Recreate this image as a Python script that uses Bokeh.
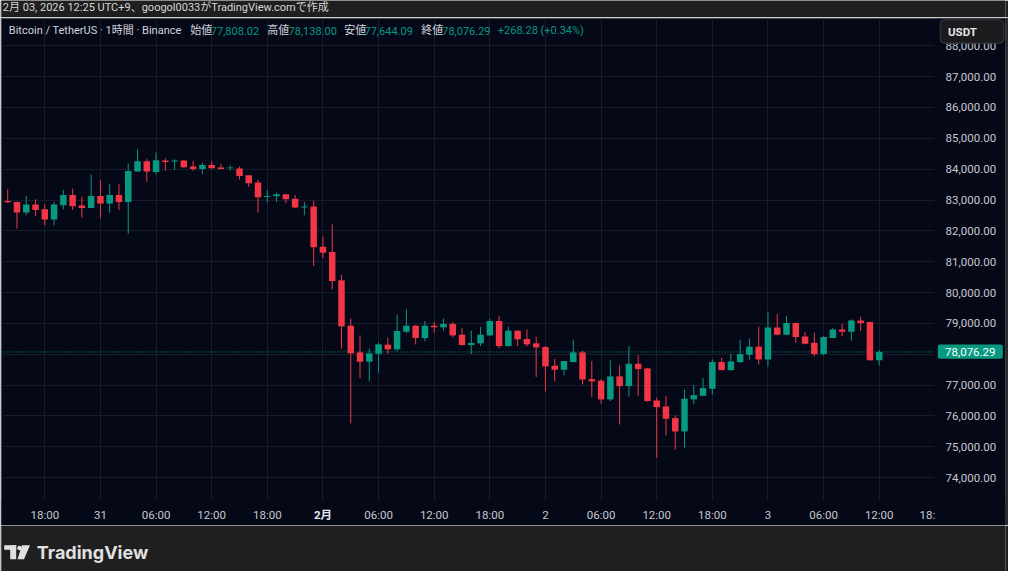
from bokeh.plotting import figure
from bokeh.layouts import column
from bokeh.models import (ColumnDataSource, FixedTicker, Span, Label,
                          BoxAnnotation, PolyAnnotation, NumeralTickFormatter)
from bokeh.core.properties import value
from bokeh.embed import file_html
from bokeh.resources import INLINE

# hour index: hours after 2026-01-30 18:00 (UTC+9), 1h candles BTC/USDT
hours = list(range(-4, 91))
opens = [82970, 82938, 82592, 82851, 82700, 82365, 82830, 83165, 82819, 82743,
         83132, 82884, 83165, 82938, 83922, 84257, 83911, 84278, 84246, 84278,
         84084, 84008, 84138, 84051, 84030, 84019, 83803, 83565, 83100, 83122,
         83186, 83045, 82754, 82786, 81489, 81316, 80397, 78927, 78062, 77759,
         78019, 78311, 78159, 78732, 78927, 78527, 78927, 78873, 78981, 78635,
         78300, 78354, 78613, 79078, 78267, 78765, 78494, 78354, 78235, 77629,
         77499, 77748, 78061, 77196, 77142, 76537, 77283, 76969, 77693, 77542,
         76504, 76310, 75931, 75499, 76537, 76656, 76883, 77748, 77488, 77748,
         77985, 78245, 77834, 78872, 78634, 79012, 78580, 78374, 78007, 78526,
         78807, 78731, 79099, 79045, 77808.02]
highs = [83349, 82948, 83132, 83024, 82851, 82938, 83327, 83370, 83111, 83824,
         83651, 83511, 83511, 84181, 84646, 84321, 84538, 84354, 84321, 84288,
         84267, 84213, 84246, 84170, 84127, 84084, 83808, 83651, 83327, 83240,
         83198, 83158, 82937, 82970, 81813, 82213, 80570, 79154, 78613, 78181,
         78375, 78538, 79284, 79456, 78948, 79078, 79046, 79154, 79046, 78851,
         78765, 78894, 79154, 79251, 78894, 78773, 78797, 78570, 78267, 77856,
         77788, 78472, 78115, 77780, 77196, 77802, 77639, 78266, 77975, 77558,
         76591, 76656, 76018, 76850, 77002, 77229, 77834, 77888, 78018, 78472,
         78504, 78893, 79380, 79304, 79250, 79023, 78720, 78699, 78591, 78850,
         78980, 79131, 79218, 79058, 78138.00]
lows = [82905, 82073, 82505, 82484, 82181, 82181, 82700, 82678, 82430, 82728,
        82408, 82592, 82678, 81911, 83918, 83586, 83835, 83943, 83976, 84040,
        83943, 83835, 84018, 83997, 83954, 83662, 83424, 82592, 82916, 82938,
        82895, 82738, 82505, 80862, 81121, 80105, 78181, 75759, 77230, 77122,
        77403, 78019, 78094, 78678, 78321, 78419, 78700, 78765, 78548, 78278,
        78008, 78267, 78592, 78192, 78246, 78267, 78246, 77262, 76797, 77121,
        77315, 77738, 77023, 76623, 76396, 76483, 75726, 76623, 76645, 76468,
        74645, 75369, 74915, 74969, 76375, 76648, 76699, 77478, 77478, 77726,
        77823, 77661, 77596, 78612, 78618, 78374, 78320, 77931, 77964, 78518,
        78580, 78439, 78753, 77790, 77644.09]
closes = [82927, 82592, 82851, 82678, 82365, 82851, 83165, 82797, 82743, 83132,
          82884, 83165, 82938, 83943, 84257, 83922, 84289, 84235, 84278, 84062,
          84008, 84138, 84030, 84008, 84051, 83781, 83543, 83089, 83132, 83186,
          83024, 82754, 82786, 81467, 81294, 80375, 78905, 78030, 77759, 78030,
          78321, 78159, 78754, 78927, 78527, 78927, 78873, 78981, 78613, 78300,
          78365, 78635, 79078, 78267, 78765, 78484, 78321, 78224, 77608, 77499,
          77780, 78061, 77185, 77121, 76537, 77283, 76969, 77693, 77521, 76483,
          76288, 75910, 75499, 76558, 76677, 76904, 77748, 77488, 77769, 78007,
          78245, 77834, 78872, 78634, 79012, 78558, 78342, 78007, 78558, 78807,
          78731, 79099, 79012, 77808.02, 78076.29]

x_ticks = [0, 6, 12, 18, 24, 30, 36, 42, 48, 54, 60, 66, 72, 78, 84, 90]
x_tick_labels = ["18:00", "31", "06:00", "12:00", "18:00", "2月", "06:00",
                 "12:00", "18:00", "2", "06:00", "12:00", "18:00", "3",
                 "06:00", "12:00"]
y_ticks = [74000, 75000, 76000, 77000, 78000, 79000, 80000, 81000,
           82000, 83000, 84000, 85000, 86000, 87000, 88000]

header_text = "2月 03, 2026 12:25 UTC+9、googol0033がTradingView.comで作成"
symbol_text = "Bitcoin / TetherUS · 1時間 · Binance"
change_text = "+268.28 (+0.34%)"

UP = "#089981"
DOWN = "#f23645"
PANEL = "#050817"
PAGE = "#1f1f1f"
GRID = "#181c2b"
AXIS_TEXT = "#c5c8cf"
FONT = "Roboto, 'Noto Sans CJK JP'"

# layout constants (pixels)
X_PRICE_EDGE = 95.97      # data x where the price scale column begins
Y_TIME_EDGE = 73261       # data y where the time scale row begins


def add_label(fig, text, sx, sy, color, size, bold=False, align="left",
              y_data=None, x_data=None):
    kw = dict(text=text, text_color=color, text_font=FONT,
              text_font_size=f"{size}px",
              text_font_style="bold" if bold else "normal",
              text_align=align, text_baseline="middle")
    if x_data is None:
        kw.update(x=sx, x_units="screen")
    else:
        kw.update(x=x_data, x_units="data")
    if y_data is None:
        kw.update(y=sy, y_units="screen")
    else:
        kw.update(y=y_data, y_units="data")
    fig.add_layout(Label(**kw))


def add_box(fig, l, r, t, b, fill, line=None, radius=0, level="annotation"):
    fig.add_layout(BoxAnnotation(
        left=l, right=r, top=t, bottom=b,
        left_units="screen", right_units="screen",
        top_units="screen", bottom_units="screen",
        fill_color=fill, fill_alpha=1 if fill else 0,
        line_color=line, line_alpha=1 if line else 0, line_width=1,
        border_radius=radius, level=level))


def strip(height):
    f = figure(width=1008, height=height, x_range=(0, 1008),
               y_range=(0, height), output_backend="svg",
               toolbar_location=None, min_border=0,
               x_axis_type=None, y_axis_type=None)
    f.background_fill_color = PAGE
    f.border_fill_color = PAGE
    f.outline_line_color = None
    f.grid.visible = False
    return f


# ---------------- header strip ----------------
head = strip(17)
add_label(head, header_text, 1.3, 10.5, "#d6d6d6", 11)

# ---------------- main chart panel ----------------
p = figure(width=1008, height=508, x_range=(-4.67, 103.62),
           y_range=(72451, 88883), y_axis_location="right",
           output_backend="svg", toolbar_location=None,
           min_border_left=1, min_border_right=3,
           min_border_top=1, min_border_bottom=0)
p.background_fill_color = PANEL
p.border_fill_color = "#2a2a2f"
p.outline_line_color = None

for ax in (p.xaxis[0], p.yaxis[0]):
    ax.axis_line_color = None
    ax.major_tick_line_color = None
    ax.minor_tick_line_color = None
    ax.major_tick_out = 0
    ax.major_tick_in = 0
    ax.major_label_text_color = AXIS_TEXT
    ax.major_label_text_font = FONT
    ax.major_label_text_font_size = "11.5px"

p.xaxis.ticker = FixedTicker(ticks=x_ticks)
overrides = {t: lab for t, lab in zip(x_ticks, x_tick_labels)}
overrides[30] = ""
p.xaxis.major_label_overrides = overrides
p.xaxis.major_label_standoff = 7
p.xaxis.fixed_location = Y_TIME_EDGE

p.yaxis.ticker = FixedTicker(ticks=y_ticks)
p.yaxis.formatter = NumeralTickFormatter(format="0,0.00")
p.yaxis.major_label_overrides = {78000: ""}
p.yaxis.major_label_standoff = 11
p.yaxis.fixed_location = X_PRICE_EDGE

p.xgrid.grid_line_color = GRID
p.ygrid.grid_line_color = GRID

tops = [max(o, c) for o, c in zip(opens, closes)]
bottoms = [min(o, c) for o, c in zip(opens, closes)]
colors = [UP if c >= o else DOWN for o, c in zip(opens, closes)]
src = ColumnDataSource(dict(t=hours, o=opens, h=highs, l=lows, c=closes,
                            top=tops, bottom=bottoms, color=colors))

p.add_layout(Span(location=closes[-1], dimension="width", line_color=UP,
                  line_dash="1 2", line_width=1, level="underlay"))
# plain panel behind the price scale and the time scale
p.add_layout(BoxAnnotation(left=X_PRICE_EDGE, fill_color=PANEL, fill_alpha=1,
                           line_color=None, level="underlay"))
p.add_layout(BoxAnnotation(top=Y_TIME_EDGE, fill_color=PANEL, fill_alpha=1,
                           line_color=None, level="underlay"))

p.segment(x0="t", y0="l", x1="t", y1="h", line_color="color", line_width=1,
          source=src)
p.vbar(x="t", width=0.7, top="top", bottom="bottom", fill_color="color",
       line_color=None, source=src)

# main-panel screen coords: frame left = page x 9, frame bottom = page y 533
def msx(px):
    return px - 9


def msy(py):
    return 533 - py


# currency box
add_box(p, msx(947.7), msx(1011.3), msy(27.3), msy(50.7), "#1b1b1e",
        line="#3c3c42", radius=4)
add_label(p, "USDT", msx(955.5), msy(39.5), "#e6e6e6", 11.5, bold=True)

# last price tag
add_box(p, msx(945.3), msx(1010.3), msy(352.0), msy(366.3), UP, radius=2)
add_label(p, f"{closes[-1]:,.2f}", msx(952.5), 0, "#ffffff", 11.5,
          y_data=closes[-1])

# bold month label and the clipped last time label
add_label(p, "2月", 0, msy(522), "#e6e8ee", 11.5, bold=True, align="center",
          x_data=30)
add_label(p, "18:", msx(927), msy(522), AXIS_TEXT, 11.5)

# legend line
LEG_Y = msy(38.3)
add_label(p, symbol_text, msx(16.3), LEG_Y, "#d1d4dc", 11)
legend = [("始値", 197.7, "#d1d4dc"),
          (f"{opens[-1]:,.2f}", 218.3, UP),
          ("高値", 274.7, "#d1d4dc"),
          (f"{highs[-1]:,.2f}", 296.0, UP),
          ("安値", 351.7, "#d1d4dc"),
          (f"{lows[-1]:,.2f}", 372.0, UP),
          ("終値", 428.7, "#d1d4dc"),
          (f"{closes[-1]:,.2f}", 449.7, UP),
          (change_text, 505.3, UP)]
for txt, px, col in legend:
    add_label(p, txt, msx(px), LEG_Y, col, 11)

# ---------------- footer strip with logo ----------------
foot = strip(46)
LOGO = "#e0e0e0"


def fsx(px):
    return px - 8


def fsy(py):
    return 579 - py


add_box(foot, fsx(10.7), fsx(22.7), fsy(552.7), fsy(557.3), LOGO)
add_box(foot, fsx(16.7), fsx(22.7), fsy(552.7), fsy(566.7), LOGO)
add_box(foot, fsx(23.8), fsx(28.2), fsy(553.3), fsy(557.7), LOGO, radius=2)
foot.add_layout(PolyAnnotation(
    xs=[fsx(28.5), fsx(36.5), fsx(30.5), fsx(24.0)],
    ys=[fsy(552.7), fsy(552.7), fsy(566.7), fsy(566.7)],
    xs_units="screen", ys_units="screen",
    fill_color=LOGO, fill_alpha=1, line_color=None))
foot.add_layout(Label(x=fsx(43.3), y=fsy(560), x_units="screen",
                      y_units="screen", text="TradingView", text_color=LOGO,
                      text_font="Inter", text_font_size="18px",
                      text_font_style="bold", text_baseline="middle"))

layout = column(head, p, foot, spacing=0)
open("out.html", "w").write(file_html(layout, INLINE))
